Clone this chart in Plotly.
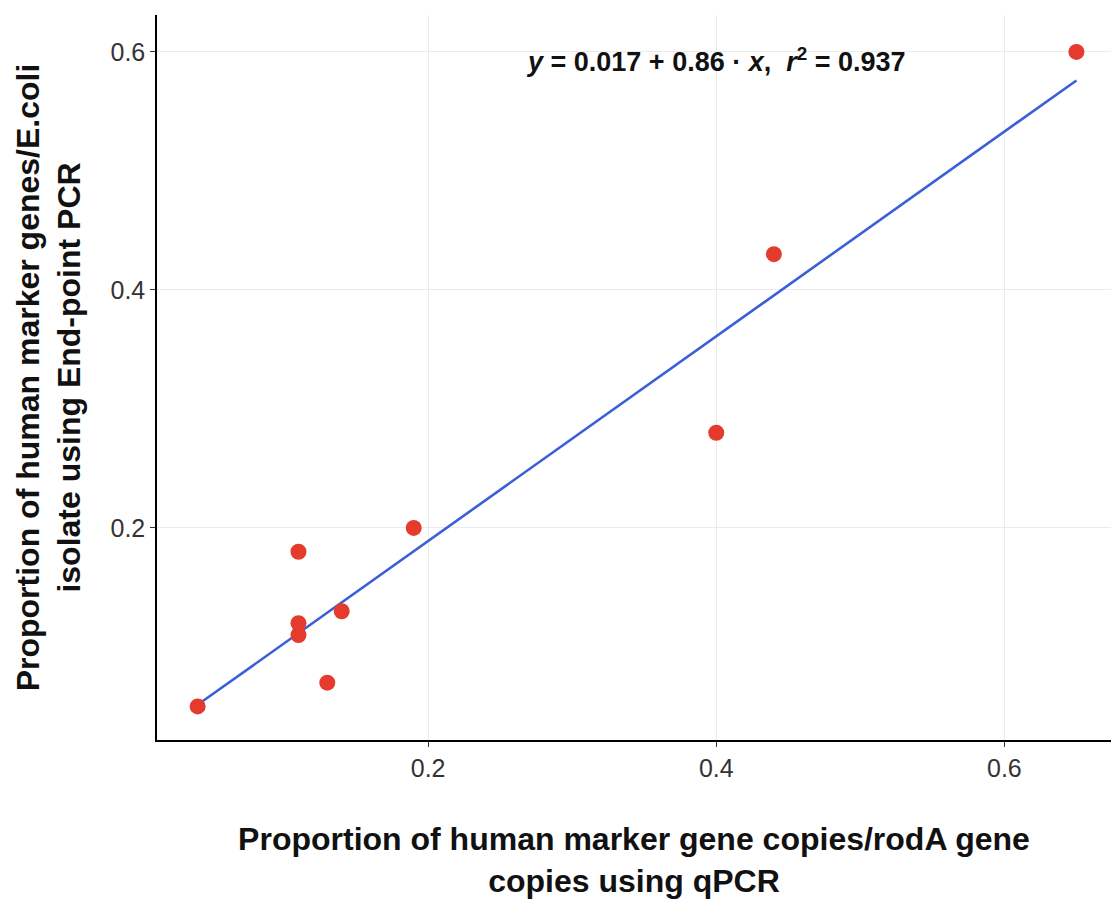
import plotly.graph_objects as go

# qPCR proportion vs end-point PCR proportion
qpcr = [0.04, 0.11, 0.11, 0.11, 0.14, 0.13, 0.19, 0.40, 0.44, 0.65]
endpoint = [0.05, 0.18, 0.12, 0.11, 0.13, 0.07, 0.20, 0.28, 0.43, 0.60]

# Linear fit coefficients reported in the equation label
intercept = 0.017
slope = 0.86
r2 = 0.937

x_ticks = [0.2, 0.4, 0.6]
y_ticks = [0.2, 0.4, 0.6]

fit_x = [min(qpcr), max(qpcr)]
fit_y = [intercept + slope * v for v in fit_x]

fig = go.Figure()
fig.add_trace(go.Scatter(
    x=fit_x, y=fit_y, mode="lines",
    line=dict(color="#3A5FD9", width=2.6),
    showlegend=False, hoverinfo="skip",
))
fig.add_trace(go.Scatter(
    x=qpcr, y=endpoint, mode="markers",
    marker=dict(color="#E53B2C", size=16, line=dict(width=0)),
    showlegend=False,
))

fig.add_annotation(
    x=0.4, xref="x", y=0.593, yref="y",
    text=f"<b><i>y</i> = {intercept} + {slope} · <i>x</i>,  <i>r</i><sup>2</sup> = {r2}</b>",
    showarrow=False, xanchor="center", yanchor="middle",
    font=dict(family="Liberation Sans, Arial, sans-serif", size=27, color="#111111"),
)

title_font = dict(size=32, color="#111111", family="Liberation Sans, Arial, sans-serif")

fig.update_layout(
    width=1111, height=899,
    margin=dict(l=157, r=0, t=15, b=159),
    paper_bgcolor="white", plot_bgcolor="white",
    font=dict(family="Liberation Sans, Arial, sans-serif", color="#222222"),
    xaxis=dict(
        range=[0.0118, 0.674],
        tickvals=x_ticks, ticktext=[f"{v:.1f}" for v in x_ticks],
        tickfont=dict(size=25, color="#333333"),
        showgrid=True, gridcolor="#EBEBEB", gridwidth=1,
        showline=True, linecolor="black", linewidth=1.5,
        ticks="outside", ticklen=5, tickcolor="#333333",
        zeroline=False,
        title=dict(
            text="<b>Proportion of human marker gene copies/rodA gene<br>copies using qPCR</b>",
            font=title_font,
            standoff=52,
        ),
    ),
    yaxis=dict(
        range=[0.0218, 0.631],
        tickvals=y_ticks, ticktext=[f"{v:.1f}" for v in y_ticks],
        tickfont=dict(size=25, color="#333333"),
        showgrid=True, gridcolor="#EBEBEB", gridwidth=1,
        showline=True, linecolor="black", linewidth=1.5,
        ticks="outside", ticklen=5, tickcolor="#333333",
        zeroline=False,
        title=dict(
            text="<b>Proportion of human marker genes/E.coli<br>isolate using End-point PCR</b>",
            font=title_font,
            standoff=20,
        ),
    ),
)

fig.write_html("out.html")
